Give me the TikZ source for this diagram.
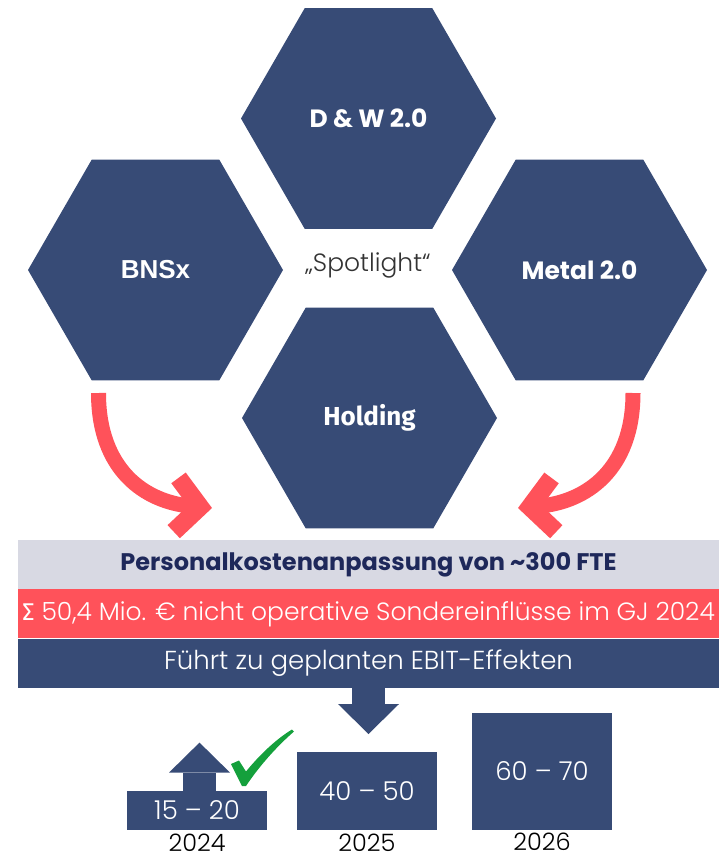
\documentclass[tikz,border=0pt]{standalone}
\usepackage{fontspec}
\IfFontExistsTF{Poppins Light}{\setmainfont{Poppins Light}}{\setmainfont{Poppins}}
\newfontfamily\geofont{Poppins}
\newfontfamily\firafont{Fira Sans}[BoldFont=* Bold]
\newfontfamily\arialfont{Liberation Sans}
\usetikzlibrary{arrows.meta,positioning}
\usetikzlibrary{shapes.geometric}
\definecolor{navy}{RGB}{55,75,118}
\definecolor{coral}{RGB}{255,82,90}
\definecolor{mist}{RGB}{216,217,227}
\definecolor{ink}{RGB}{30,40,90}
\definecolor{tick}{RGB}{20,160,60}

\begin{document}
\begin{tikzpicture}[x=1pt, y=-1pt,
  hexa/.style={regular polygon, regular polygon sides=6, minimum size=255pt,
    inner sep=0pt, fill=navy, text=white},
  band/.style={minimum width=701pt, minimum height=49pt, inner sep=0pt,
    font=\fontsize{25}{28}\selectfont},
  valbox/.style={fill=navy, text=white, minimum width=140pt, inner sep=0pt,
    anchor=south, font=\fontsize{26}{28}\selectfont},
  year/.style={inner sep=0pt, text depth=0pt, font=\fontsize{24}{28}\selectfont},
  fatarrow/.style={navy, line width=33pt, -{Triangle[length=30pt,width=61pt,line width=0pt]}},
  curvearrow/.style={coral, line width=15pt, -{Straight Barb[length=24pt,width=54pt,line width=18pt]}}]
\useasboundingbox (0,0) rectangle (720,857);

\node[hexa, font=\geofont\bfseries\fontsize{25}{28}\selectfont] (dw) at (368.5,118.5) {D \& W 2.0};
\node[hexa, font=\arialfont\bfseries\fontsize{26}{28}\selectfont] (bns) at (155.5,270) {BNSx};
\node[hexa, font=\geofont\bfseries\fontsize{25}{28}\selectfont] (metal) at (579.5,270) {Metal 2.0};
\node[hexa, font=\firafont\bfseries\fontsize{26}{28}\selectfont] (hold) at (369.5,418) {Holding};
\node[font=\fontsize{25}{28}\selectfont, text=black!80] (spot) at (368,265) {„Spotlight“};

\node[band, fill=mist, text=ink, font=\geofont\bfseries\fontsize{24}{28}\selectfont] (fte) at (368.5,564.5)
  {Personalkostenanpassung von \textasciitilde300 FTE};
\node[band, fill=coral, text=white, below=0pt of fte] (sonder)
  {{\firafont ∑} 50,4 Mio. € nicht operative Sondereinflüsse im GJ 2024};
\node[band, fill=navy, text=white, below=0pt of sonder, font=\fontsize{26}{28}\selectfont] (ebit)
  {Führt zu geplanten EBIT-Effekten};

\coordinate (lstart) at (98.5,393);
\coordinate (lend) at (212,508);
\coordinate (rstart) at (633,393);
\coordinate (rend) at (518,508);
\draw[curvearrow] (lstart) .. controls (98.5,470) and (145,502) .. (lend);
\draw[curvearrow] (rstart) .. controls (633,470) and (586,502) .. (rend);

\node[valbox, minimum height=39pt] (v24) at (197,830) {15 – 20};
\node[valbox, minimum height=78pt] (v25) at (367,830) {40 – 50};
\node[valbox, minimum height=117pt] (v26) at (542,830) {60 – 70};
\node[year, below=4pt of v24] {2024};
\node[year, below=4pt of v25] {2025};
\node[year, below=3pt of v26] {2026};

\draw[fatarrow] (ebit.south) -- ++(0,46);
\draw[fatarrow] ([xshift=2.5pt]v24.north) -- ++(0,-48);

\fill[tick] (231,764) -- (239,760.5) -- (246,771.5) .. controls (262,752) and (278,738) .. (292,729.5)
  -- (294,731.5) .. controls (275,748) and (258,768) .. (246,786) -- (242,786) -- cycle;
\end{tikzpicture}
\end{document}
